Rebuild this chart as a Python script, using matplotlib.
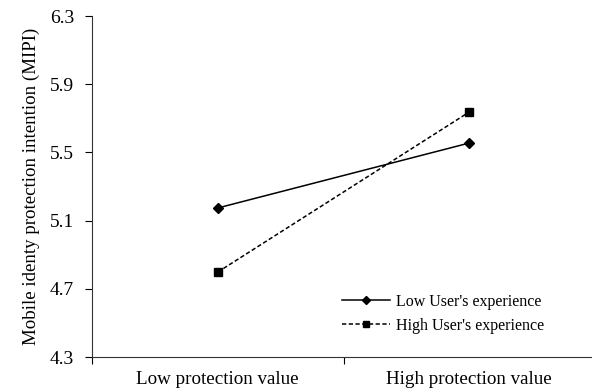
import matplotlib
matplotlib.use("Agg")
import matplotlib.pyplot as plt

plt.rcParams['font.family'] = ['Liberation Serif', 'DejaVu Serif']

# data
categories = ['Low protection value', 'High protection value']
low_exp = [5.174, 5.555]
high_exp = [4.798, 5.737]
series_names = ["Low User's experience", "High User's experience"]
y_ticks = [4.3, 4.7, 5.1, 5.5, 5.9, 6.3]

fig = plt.figure(figsize=(5.92, 3.90), dpi=100)
ax = fig.add_axes([92 / 592, 1 - 357 / 390, 500 / 592, (357 - 16) / 390])

x = list(range(len(categories)))
ax.plot(x, low_exp, color='black', lw=1.1, marker='D', ms=5.5,
        label=series_names[0])
ax.plot(x, high_exp, color='black', lw=1.1, ls=(0, (2.8, 1.6)), marker='s', ms=6,
        label=series_names[1])

ax.set_xlim(-0.5, -0.5 + 500 / 251.5)
ax.set_ylim(4.3, 6.3)
ax.set_yticks(y_ticks)
ax.set_yticklabels(['%.1f' % v for v in y_ticks])
ax.set_xticks([-0.5, 0.5])
ax.set_xticklabels(['', ''])
ax.set_xticks(x, minor=True)
ax.set_xticklabels(categories, minor=True)
ax.tick_params(axis='x', which='minor', length=0, pad=10, labelsize=13.7)
ax.tick_params(axis='x', which='major', direction='out', length=5, width=0.8)
ax.tick_params(axis='y', direction='out', length=5, width=0.8, labelsize=14, pad=8)

ax.spines['top'].set_visible(False)
ax.spines['right'].set_visible(False)
for s in ['left', 'bottom']:
    ax.spines[s].set_linewidth(0.8)
    ax.spines[s].set_color('#333333')

ax.set_ylabel('Mobile identy protection intention (MIPI)', fontsize=13.6, labelpad=7)

ax.legend(loc='upper left', bbox_to_anchor=(342 / 592, 1 - 294 / 390),
          bbox_transform=fig.transFigure, frameon=False, fontsize=11.5,
          handlelength=3.0, handletextpad=0.4, labelspacing=0.48,
          borderpad=0, borderaxespad=0, markerscale=0.8)

fig.savefig('out.png', dpi=100)
